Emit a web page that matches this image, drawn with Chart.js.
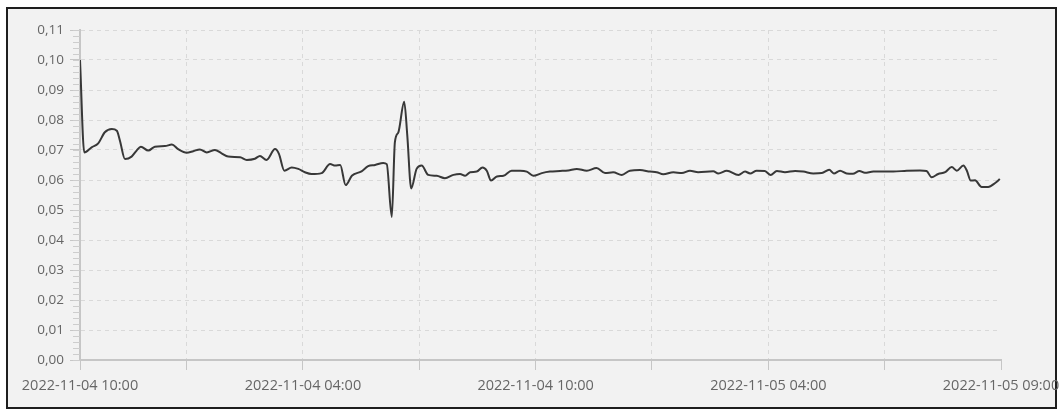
<!DOCTYPE html>
<html>
<head>
<meta charset="utf-8">
<title>Chart</title>
<script src="https://cdn.jsdelivr.net/npm/chart.js@4/dist/chart.umd.min.js"></script>
<style>
    html, body { margin: 0; padding: 0; background: #ffffff; }
    #wrap { position: relative; width: 1062px; height: 410px; }
    #frame {
        position: absolute; left: 6px; top: 7px;
        width: 1047px; height: 398px;
        border: 2px solid #1e1e1e;
        background: #f2f2f2;
    }
    #chart { position: absolute; left: 0; top: 0; }
</style>
</head>
<body>
<div id="wrap">
    <div id="frame"></div>
    <canvas id="chart" width="1062" height="410"></canvas>
</div>
<script>
// Hours since start of the series and the measured value
const hours = [
    0, 0.11, 0.30, 0.47, 0.64, 0.82, 0.95, 1.03, 1.16, 1.33,
    1.46, 1.57, 1.76, 1.93, 2.19, 2.37, 2.53, 2.75, 2.92, 3.09,
    3.27, 3.48, 3.65, 3.82, 4.13, 4.30, 4.51, 4.64, 4.81, 5.03,
    5.13, 5.27, 5.46, 5.63, 5.80, 5.97, 6.23, 6.45, 6.58, 6.71,
    6.85, 7.01, 7.26, 7.43, 7.61, 7.82, 7.91, 8.04, 8.12, 8.21,
    8.36, 8.44, 8.54, 8.68, 8.81, 8.98, 9.20, 9.41, 9.63, 9.80,
    9.93, 10.06, 10.23, 10.38, 10.49, 10.60, 10.75, 10.92, 11.13, 11.35,
    11.52, 11.69, 11.91, 12.12, 12.38, 12.59, 12.81, 13.07, 13.32, 13.54,
    13.75, 13.97, 14.18, 14.44, 14.70, 14.87, 15.04, 15.30, 15.52, 15.73,
    15.94, 16.33, 16.46, 16.68, 16.98, 17.15, 17.28, 17.45, 17.66, 17.81,
    17.97, 18.18, 18.44, 18.65, 18.91, 19.13, 19.32, 19.44, 19.60, 19.77,
    19.93, 20.10, 20.24, 20.46, 20.71, 20.97, 21.32, 21.66, 21.83, 21.96,
    22.13, 22.31, 22.48, 22.61, 22.78, 22.87, 22.97, 23.08, 23.25, 23.42,
    23.60, 23.72
];
const values = [
    0.1000, 0.0692, 0.0709, 0.0722, 0.0759, 0.0770, 0.0764, 0.0731, 0.0670, 0.0678,
    0.0698, 0.0711, 0.0698, 0.0711, 0.0713, 0.0718, 0.0703, 0.0691, 0.0696, 0.0702,
    0.0692, 0.0700, 0.0689, 0.0678, 0.0676, 0.0667, 0.0671, 0.0680, 0.0667, 0.0703,
    0.0687, 0.0631, 0.0642, 0.0637, 0.0626, 0.0620, 0.0623, 0.0653, 0.0648, 0.0650,
    0.0583, 0.0614, 0.0629, 0.0646, 0.0650, 0.0657, 0.0653, 0.0477, 0.0726, 0.0759,
    0.0861, 0.0748, 0.0572, 0.0637, 0.0648, 0.0617, 0.0614, 0.0606, 0.0617, 0.0620,
    0.0614, 0.0626, 0.0628, 0.0642, 0.0631, 0.0598, 0.0612, 0.0614, 0.0631, 0.0631,
    0.0628, 0.0614, 0.0623, 0.0628, 0.0630, 0.0632, 0.0637, 0.0631, 0.0640, 0.0623,
    0.0626, 0.0617, 0.0631, 0.0633, 0.0628, 0.0626, 0.0619, 0.0626, 0.0623, 0.0631,
    0.0626, 0.0629, 0.0622, 0.0631, 0.0617, 0.0628, 0.0622, 0.0631, 0.0630, 0.0617,
    0.0630, 0.0626, 0.0630, 0.0628, 0.0622, 0.0623, 0.0634, 0.0622, 0.0631, 0.0622,
    0.0621, 0.0630, 0.0624, 0.0628, 0.0628, 0.0628, 0.0631, 0.0632, 0.0630, 0.0609,
    0.0620, 0.0626, 0.0643, 0.0631, 0.0648, 0.0631, 0.0598, 0.0599, 0.0577, 0.0577,
    0.0590, 0.0603
];

// Axis ticks
const xTickHours = [0, 2.75, 5.75, 8.75, 11.75, 14.75, 17.75, 20.75, 23.75];
const xTickLabels = [
    '2022-11-04 10:00', '', '2022-11-04 04:00', '', '2022-11-04 10:00',
    '', '2022-11-05 04:00', '', '2022-11-05 09:00'
];
const yTicks = [0, 0.01, 0.02, 0.03, 0.04, 0.05, 0.06, 0.07, 0.08, 0.09, 0.10, 0.11];

const axisColor = '#c6c6c6';
const gridColor = '#d9d9d9';
const labelColor = '#666666';

// Small minor ticks along the value axis
const minorTicks = {
    id: 'minorTicks',
    afterDraw(chart) {
        const y = chart.scales.y;
        const ctx = chart.ctx;
        ctx.save();
        ctx.strokeStyle = '#cdcdcd';
        ctx.lineWidth = 1;
        for (let v = 0; v <= 0.1101; v += 0.002) {
            const py = Math.round(y.getPixelForValue(v)) + 0.5;
            ctx.beginPath();
            ctx.moveTo(y.right - 7, py);
            ctx.lineTo(y.right, py);
            ctx.stroke();
        }
        ctx.restore();
    }
};

const ctx = document.getElementById('chart').getContext('2d');
new Chart(ctx, {
    type: 'line',
    data: {
        datasets: [{
            data: hours.map((h, i) => ({ x: h, y: values[i] })),
            borderColor: '#383838',
            borderWidth: 2,
            pointRadius: 0,
            fill: false,
            tension: 0.4,
            cubicInterpolationMode: 'monotone'
        }]
    },
    options: {
        responsive: false,
        animation: false,
        layout: { padding: { left: 0, right: 61, top: 30, bottom: 0 } },
        plugins: {
            legend: { display: false },
            tooltip: { enabled: false }
        },
        scales: {
            x: {
                type: 'linear',
                min: 0,
                max: 23.75,
                afterBuildTicks: s => { s.ticks = xTickHours.map(v => ({ value: v })); },
                afterFit: s => { s.height = 50; s.paddingLeft = 0; s.paddingRight = 0; },
                ticks: {
                    autoSkip: false,
                    maxRotation: 0,
                    padding: 7,
                    color: labelColor,
                    font: { family: 'Open Sans', size: 14.5 },
                    callback: (v, i) => xTickLabels[i]
                },
                grid: {
                    color: c => (c.index === 0 || c.index === xTickHours.length - 1) ? 'rgba(0,0,0,0)' : gridColor,
                    tickColor: axisColor,
                    tickLength: 10,
                    lineWidth: 1
                },
                border: { color: axisColor, width: 2, dash: [4, 4] }
            },
            y: {
                min: 0,
                max: 0.11,
                afterBuildTicks: s => { s.ticks = yTicks.map(v => ({ value: v })); },
                afterFit: s => { s.width = 80; s.paddingTop = 0; s.paddingBottom = 0; },
                ticks: {
                    padding: 6,
                    color: labelColor,
                    font: { family: 'Open Sans', size: 13.5 },
                    callback: v => v.toFixed(2).replace('.', ',')
                },
                grid: {
                    color: c => c.index === 0 ? 'rgba(0,0,0,0)' : gridColor,
                    tickColor: axisColor,
                    tickLength: 10,
                    lineWidth: 1
                },
                border: { color: axisColor, width: 2, dash: [4, 4] }
            }
        }
    },
    plugins: [minorTicks]
});
</script>
</body>
</html>
